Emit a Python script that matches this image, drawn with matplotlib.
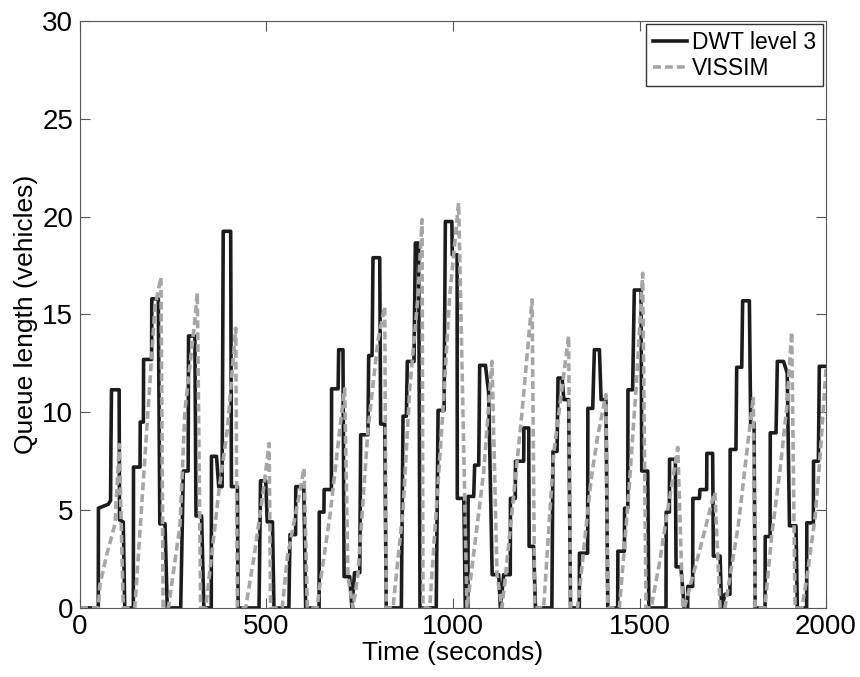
import matplotlib
matplotlib.use("Agg")
import matplotlib.pyplot as plt

plt.rcParams['font.family'] = ['Liberation Sans', 'DejaVu Sans']

# DWT level 3 estimate (time s, queue vehicles)
dwt_t = [0, 49, 49.5, 76, 82, 83, 84.5, 105, 106, 116, 120,
         143, 143.5, 161, 161.5, 170, 170.5, 192, 192.5, 210, 214, 228, 234,
         270, 277, 290, 291, 308, 311, 326, 332,
         352, 352.5, 366, 372, 381, 384, 404, 406, 422, 424,
         480, 484, 498, 502, 516, 520,
         560, 563, 578, 578.5, 600, 605,
         641, 641.5, 654, 654.5, 674, 674.5, 692, 693.5, 705, 708, 723, 729,
         736, 750, 752.5, 772, 774, 783, 785.5, 803.5, 806, 817, 821,
         861.5, 866, 875, 877.5, 895.5, 899, 908, 911.5,
         955, 960, 976, 979.5, 997, 998, 1011, 1011.5, 1029, 1033,
         1040, 1040.5, 1055.5, 1058, 1069, 1071.5, 1087, 1095.5, 1105, 1122.5, 1127,
         1136, 1153.5, 1154, 1167, 1167.5, 1189.5, 1190, 1203, 1204, 1216, 1221,
         1265, 1268, 1279, 1281.5, 1292.5, 1297, 1310, 1315,
         1338.5, 1339, 1361, 1361.5, 1374.5, 1379, 1392.5, 1397, 1410, 1415,
         1441.5, 1442, 1459.5, 1460, 1468.5, 1469, 1481.5, 1486, 1504, 1506, 1522, 1525,
         1571, 1571.5, 1580, 1580.5, 1596, 1598, 1611, 1620,
         1629, 1629.5, 1642.5, 1643, 1660.5, 1662, 1680, 1680.5, 1696, 1698, 1716, 1720,
         1729, 1742.5, 1743, 1758.5, 1760.5, 1774, 1776.5, 1794.5, 1798, 1807, 1810,
         1836.5, 1837, 1850, 1850.5, 1866, 1869.5, 1886, 1896, 1902, 1919.5, 1923,
         1948, 1948.5, 1966, 1966.5, 1979.5, 1982, 2000]
dwt_q = [0, 0, 5.1, 5.3, 5.5, 8.3, 11.15, 11.15, 4.5, 4.4, 0,
         0, 7.2, 7.2, 9.5, 9.5, 12.7, 12.7, 15.8, 15.8, 4.3, 4.3, 0,
         0, 7.0, 7.0, 13.9, 13.9, 4.7, 4.7, 0,
         0, 7.75, 7.75, 6.2, 6.2, 19.25, 19.25, 6.2, 6.2, 0,
         0, 6.5, 6.5, 4.4, 4.4, 0,
         0, 3.75, 3.75, 6.2, 6.2, 0,
         0, 4.9, 4.9, 6.05, 6.05, 11.2, 11.2, 13.2, 13.2, 1.6, 1.6, 0,
         1.8, 1.8, 8.85, 8.85, 12.9, 12.9, 17.9, 17.9, 9.4, 9.4, 0,
         0, 9.8, 9.8, 12.6, 12.6, 18.65, 18.65, 0,
         0, 10.1, 10.1, 19.75, 19.75, 18.05, 18.05, 5.6, 5.6, 0,
         0, 5.7, 5.7, 7.3, 7.3, 12.4, 12.4, 11.0, 1.7, 1.7, 0,
         1.7, 1.7, 5.6, 5.6, 7.5, 7.5, 9.2, 9.2, 3.15, 3.15, 0,
         0, 8.0, 8.0, 11.75, 11.75, 10.65, 10.65, 0,
         0, 2.8, 2.8, 10.2, 10.2, 13.2, 13.2, 10.65, 10.65, 0,
         0, 2.9, 2.9, 5.1, 5.1, 11.15, 11.15, 16.25, 16.25, 7.0, 7.0, 0,
         0, 4.9, 4.9, 7.6, 7.6, 2.1, 2.1, 0,
         0, 1.1, 1.1, 5.6, 5.6, 6.05, 6.05, 7.9, 7.9, 2.65, 2.65, 0,
         0.7, 0.7, 8.1, 8.1, 12.3, 12.3, 15.7, 15.7, 9.45, 9.45, 0,
         0, 3.65, 3.65, 8.95, 8.95, 12.6, 12.6, 12.0, 4.2, 4.2, 0,
         0, 4.35, 4.35, 7.5, 7.5, 12.35, 12.35]

# VISSIM simulation
vissim_t = [0, 49, 53.5, 71.5, 94, 105.5, 116,
            147, 179, 201, 217, 223,
            237, 268, 281.5, 308, 314.5, 323.5,
            337, 372.5, 395, 417.5, 422,
            444, 466.5, 493, 507, 511,
            542, 556, 587, 600.5, 609.5,
            636, 641, 670, 700.5, 709.5, 718.5, 732,
            745, 772, 799, 817, 821,
            839, 866, 884, 906, 917, 919.5,
            937.5, 973, 991, 1015, 1037.5,
            1082, 1104.5, 1118, 1131,
            1140, 1185, 1212, 1219,
            1243, 1270, 1310, 1315,
            1334, 1370, 1388, 1410, 1415,
            1446, 1468.5, 1490.5, 1508.5, 1517.5,
            1531, 1553.5, 1575.5, 1602.5, 1616,
            1620, 1662, 1698, 1702, 1716,
            1729, 1765, 1805, 1810,
            1836, 1854, 1877, 1894.5, 1908, 1917,
            1935, 1948, 1971, 1984, 2000]
vissim_q = [0, 0, 1.2, 2.7, 4.3, 8.35, 0,
            0, 9.1, 15.4, 16.9, 0,
            0, 4.2, 10.1, 14.7, 16.1, 0,
            0, 6.0, 9.1, 14.3, 0,
            0, 2.6, 6.2, 8.4, 0,
            0, 2.6, 5.7, 7.15, 0,
            0, 0.9, 4.7, 9.8, 11.2, 1.6, 0,
            1.7, 9.1, 13.7, 15.4, 0,
            0, 5.0, 11.2, 15.9, 19.85, 0,
            0, 10.1, 15.9, 20.7, 0,
            6.9, 12.6, 1.7, 0,
            1.5, 10.0, 15.75, 0,
            0, 7.9, 13.9, 0,
            0, 6.55, 8.8, 10.9, 0,
            0, 5.2, 11.15, 17.1, 0,
            0, 2.3, 5.0, 8.2, 0,
            0, 3.0, 5.7, 5.9, 0,
            0, 4.25, 10.8, 0,
            0, 3.65, 7.1, 10.2, 14.1, 0,
            0, 1.45, 4.7, 7.75, 12.2]

fig = plt.figure(figsize=(8.6, 6.77), dpi=100)
ax = fig.add_axes([0.093, 0.102, 0.8675, 0.867])

ax.plot(dwt_t, dwt_q, color='#1c1c1c', lw=2.6, label='DWT level 3')
ax.plot(vissim_t, vissim_q, color='#a6a6a6', lw=2.6, ls=(0, (2.2, 1.1)), label='VISSIM')

ax.set_xlim(0, 2000)
ax.set_ylim(0, 30)
ax.set_xticks([0, 500, 1000, 1500, 2000])
ax.set_yticks([0, 5, 10, 15, 20, 25, 30])
ax.tick_params(direction='in', top=True, right=True, labelsize=20, length=7,
               color='#555555')
ax.tick_params(axis='x', pad=4)
ax.tick_params(axis='y', pad=5)
for s in ax.spines.values():
    s.set_color('#555555')
ax.set_xlabel('Time (seconds)', fontsize=19, labelpad=1)
ax.set_ylabel('Queue length (vehicles)', fontsize=19, labelpad=3)

leg = ax.legend(loc='upper right', fontsize=16.5, fancybox=False, framealpha=1,
                edgecolor='#333333', handlelength=1.5, borderaxespad=0.15,
                handletextpad=0.2, labelspacing=0.1, borderpad=0.3)
leg.get_frame().set_linewidth(1.0)

fig.savefig('out.png', dpi=100)
